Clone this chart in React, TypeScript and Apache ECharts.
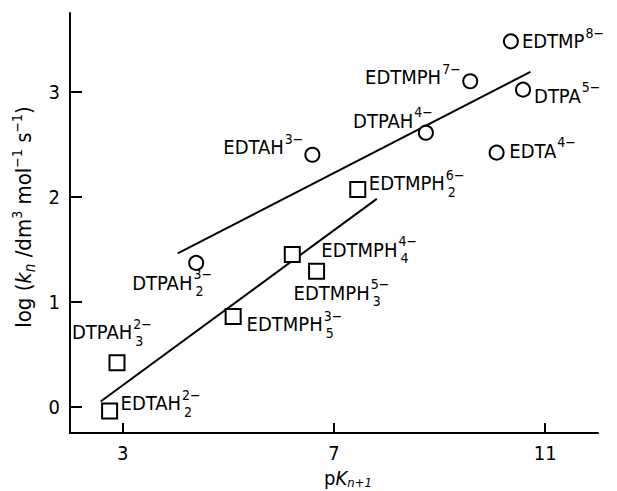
import React, { useEffect, useRef } from 'react';
import * as echarts from 'echarts';

const FONT = "'Liberation Sans Narrow', 'DejaVu Sans Condensed', 'Liberation Sans', sans-serif";

// circle points (open circles)
const circleBase = ['EDTMP', 'EDTMPH', 'DTPA', 'DTPAH', 'EDTA', 'EDTAH', 'DTPAH'];
const circleSub = ['', '', '', '', '', '', '2'];
const circleSup = ['8−', '7−', '5−', '4−', '4−', '3−', '3−'];
const circleX = [10.35, 9.58, 10.58, 8.74, 10.08, 6.59, 4.39];
const circleY = [3.48, 3.10, 3.02, 2.61, 2.42, 2.40, 1.37];

// square points (open squares)
const squareBase = ['EDTMPH', 'EDTMPH', 'EDTMPH', 'EDTMPH', 'DTPAH', 'EDTAH'];
const squareSub = ['2', '4', '3', '5', '3', '2'];
const squareSup = ['6−', '4−', '5−', '3−', '2−', '2−'];
const squareX = [7.45, 6.21, 6.67, 5.09, 2.89, 2.75];
const squareY = [2.07, 1.45, 1.29, 0.86, 0.42, -0.04];

// fitted lines
const upperLineX = [4.04, 10.72];
const upperLineY = [1.46, 3.19];
const lowerLineX = [2.58, 7.81];
const lowerLineY = [0.05, 1.98];

// axis ticks
const xTicks = [3, 7, 11];
const yTicks = [0, 1, 2, 3];

// label placement (style only): [dx, dy, align]
const circleLabelPos: [number, number, string][] = [
  [11, 0, 'left'],
  [-9.5, -4, 'right'],
  [11, 6, 'left'],
  [7, -12, 'right'],
  [12.7, -2, 'left'],
  [-9, -7.5, 'right'],
  [-64, 20, 'left'],
];
const squareLabelPos: [number, number, string][] = [
  [11, -6, 'left'],
  [29, -5, 'left'],
  [-23, 21.5, 'left'],
  [13.4, 8, 'left'],
  [-45, -30.6, 'left'],
  [11, -7.5, 'left'],
];

const rich: any = {
  m: { fontSize: 20, lineHeight: 31, verticalAlign: 'middle', fontFamily: FONT, color: '#000' },
  p: { fontSize: 14, lineHeight: 14, verticalAlign: 'top', fontFamily: FONT, color: '#000', padding: [0, 0, 0, 1] },
  q: { fontSize: 14, lineHeight: 14, verticalAlign: 'top', fontFamily: FONT, color: '#000', width: 1, padding: [0, 0, 0, 1] },
  b: { fontSize: 14, lineHeight: 14, verticalAlign: 'bottom', fontFamily: FONT, color: '#000', padding: [0, 0, 0, 1] },
};

function fmt(base: string, sub: string, sup: string) {
  if (sub) return `{m|${base}}{q|${sup}}{b|${sub}}`;
  return `{m|${base}}{p|${sup}}`;
}

function buildData(xs: number[], ys: number[], pos: [number, number, string][]) {
  return xs.map((x, i) => ({
    value: [x, ys[i]],
    label: { align: pos[i][2] },
  }));
}

export default function App() {
  const ref = useRef<HTMLDivElement>(null);
  useEffect(() => {
    const chart = echarts.init(ref.current!, null, { renderer: 'svg' });
    const circleLabels = circleBase.map((b, i) => fmt(b, circleSub[i], circleSup[i]));
    const squareLabels = squareBase.map((b, i) => fmt(b, squareSub[i], squareSup[i]));
    const axisLine = { onZero: false, lineStyle: { color: '#000', width: 2 } };
    const layoutFor = (pos: [number, number, string][]) => (params: any) => {
      const p = pos[params.dataIndex];
      return { dx: p[0], dy: p[1], align: p[2], hideOverlap: false };
    };
    const option: any = {
      animation: false,
      backgroundColor: '#fff',
      grid: { left: 70, right: 19, top: 13, bottom: 58, containLabel: false, outerBoundsMode: 'none' },
      xAxis: {
        type: 'value',
        min: 2,
        max: 12,
        axisLine,
        axisTick: { show: true, inside: true, length: 10, customValues: xTicks, lineStyle: { color: '#000', width: 2 } },
        axisLabel: { customValues: xTicks, fontSize: 20, color: '#000', margin: 10, fontFamily: FONT },
        splitLine: { show: false },
        name: '{a|p}{k|K}{s|n+1}',
        nameLocation: 'middle',
        nameGap: 32,
        nameTextStyle: {
          padding: [0, 0, 0, 28],
          rich: {
            a: { fontSize: 20, fontFamily: FONT, color: '#000', lineHeight: 22, verticalAlign: 'middle' },
            k: { fontSize: 20, fontFamily: FONT, fontStyle: 'italic', color: '#000', lineHeight: 22, verticalAlign: 'middle' },
            s: { fontSize: 13, fontFamily: FONT, fontStyle: 'italic', color: '#000', lineHeight: 13, verticalAlign: 'bottom' },
          },
        },
      },
      yAxis: {
        type: 'value',
        min: -0.25,
        max: 3.75,
        axisLine,
        axisTick: { show: true, inside: true, length: 12, customValues: yTicks, lineStyle: { color: '#000', width: 2 } },
        axisLabel: { customValues: yTicks, fontSize: 20, color: '#000', margin: 10, fontFamily: FONT },
        splitLine: { show: false },
        name: '{a|log (}{k|k}{s|n}{a| /dm}{p|3}{a| mol}{p|−1}{a| s}{p|−1}{a|)}',
        nameLocation: 'middle',
        nameGap: 28,
        nameTextStyle: {
          padding: [0, 0, 0, 12],
          rich: {
            a: { fontSize: 22, fontFamily: FONT, color: '#000', lineHeight: 28, verticalAlign: 'middle' },
            k: { fontSize: 22, fontFamily: FONT, fontStyle: 'italic', color: '#000', lineHeight: 28, verticalAlign: 'middle' },
            s: { fontSize: 15, fontFamily: FONT, fontStyle: 'italic', color: '#000', lineHeight: 14, verticalAlign: 'bottom' },
            p: { fontSize: 14, fontFamily: FONT, color: '#000', lineHeight: 13, verticalAlign: 'top' },
          },
        },
      },
      series: [
        {
          type: 'line',
          data: upperLineX.map((x, i) => [x, upperLineY[i]]),
          symbol: 'none',
          silent: true,
          lineStyle: { color: '#000', width: 2 },
          z: 1,
        },
        {
          type: 'line',
          data: lowerLineX.map((x, i) => [x, lowerLineY[i]]),
          symbol: 'none',
          silent: true,
          lineStyle: { color: '#000', width: 2 },
          z: 1,
        },
        {
          type: 'scatter',
          symbol: 'circle',
          symbolSize: 14,
          itemStyle: { color: '#fff', borderColor: '#000', borderWidth: 2, opacity: 1 },
          data: buildData(circleX, circleY, circleLabelPos),
          label: {
            show: true,
            position: 'inside',
            verticalAlign: 'middle',
            formatter: (p: any) => circleLabels[p.dataIndex],
            rich,
          },
          labelLayout: layoutFor(circleLabelPos),
          z: 3,
        },
        {
          type: 'scatter',
          symbol: 'rect',
          symbolSize: 15,
          itemStyle: { color: '#fff', borderColor: '#000', borderWidth: 2, opacity: 1 },
          data: buildData(squareX, squareY, squareLabelPos),
          label: {
            show: true,
            position: 'inside',
            verticalAlign: 'middle',
            formatter: (p: any) => squareLabels[p.dataIndex],
            rich,
          },
          labelLayout: layoutFor(squareLabelPos),
          z: 3,
        },
      ],
    };
    chart.setOption(option);
    return () => chart.dispose();
  }, []);
  return <div ref={ref} style={{ position: 'fixed', left: 0, top: 0, width: 617, height: 491 }} />;
}
